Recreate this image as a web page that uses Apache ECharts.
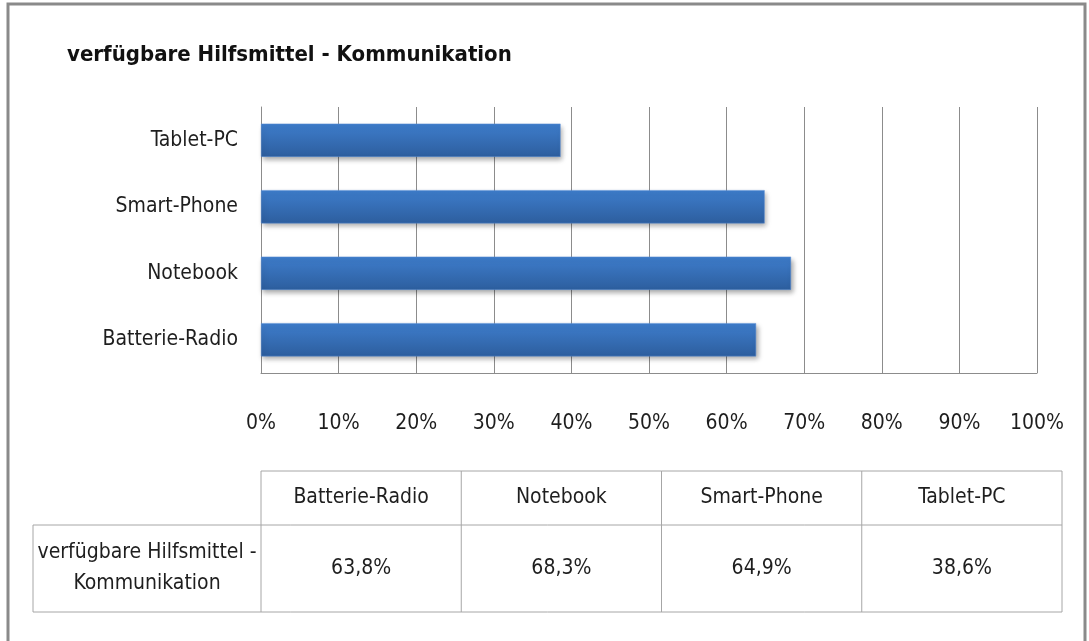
<!DOCTYPE html>
<html>
<head>
<meta charset="utf-8">
<script src="https://cdn.jsdelivr.net/npm/echarts@6/dist/echarts.min.js"></script>
<style>
    html, body { margin: 0; padding: 0; background: #fff; }
    #chart { width: 1089px; height: 641px; }
</style>
</head>
<body>
<div id="chart"></div>
<script>
// data
const categories = ['Batterie-Radio', 'Notebook', 'Smart-Phone', 'Tablet-PC'];
const values = [63.8, 68.3, 64.9, 38.6];
const seriesName = 'verfügbare Hilfsmittel - Kommunikation';
const rowLabelLines = ['verfügbare Hilfsmittel -', 'Kommunikation'];

const FONT = "'Liberation Sans Narrow', 'DejaVu Sans Condensed', sans-serif";
const fmt = v => v.toFixed(1).replace('.', ',') + '%';

// data table layout
const tblLeft = 33, colStart = 261, tblRight = 1062;
const rowTop = 471, rowMid = 525, rowBottom = 612;
const colW = (tblRight - colStart) / categories.length;
const lineStyle = { stroke: '#a6a6a6', lineWidth: 1 };

const graphics = [
    // outer frame
    { type: 'rect', shape: { x: 8, y: 4, width: 1077, height: 660 },
      style: { fill: null, stroke: '#8a8a8a', lineWidth: 3 } },
    { type: 'line', shape: { x1: colStart, y1: rowTop, x2: tblRight, y2: rowTop }, style: lineStyle },
    { type: 'line', shape: { x1: tblLeft, y1: rowMid, x2: tblRight, y2: rowMid }, style: lineStyle },
    { type: 'line', shape: { x1: tblLeft, y1: rowBottom, x2: tblRight, y2: rowBottom }, style: lineStyle },
    { type: 'line', shape: { x1: tblLeft, y1: rowMid, x2: tblLeft, y2: rowBottom }, style: lineStyle }
];
for (let i = 0; i <= categories.length; i++) {
    const x = colStart + i * colW;
    graphics.push({ type: 'line', shape: { x1: x, y1: rowTop, x2: x, y2: rowBottom }, style: lineStyle });
}
categories.forEach((c, i) => {
    const cx = colStart + (i + 0.5) * colW;
    graphics.push({ type: 'text', x: cx, y: (rowTop + rowMid) / 2,
        style: { text: c, font: '21px ' + FONT, fill: '#1e1e1e', align: 'center', verticalAlign: 'middle' } });
    graphics.push({ type: 'text', x: cx, y: (rowMid + rowBottom) / 2,
        style: { text: fmt(values[i]), font: '21px ' + FONT, fill: '#1e1e1e', align: 'center', verticalAlign: 'middle' } });
});
graphics.push({ type: 'text', x: (tblLeft + colStart) / 2, y: (rowMid + rowBottom) / 2,
    style: { text: rowLabelLines.join('\n'), font: '21px ' + FONT, fill: '#1e1e1e',
             align: 'center', verticalAlign: 'middle', lineHeight: 31 } });

const chart = echarts.init(document.getElementById('chart'));
chart.setOption({
    animation: false,
    title: {
        text: seriesName,
        left: 62, top: 39,
        textStyle: { fontFamily: FONT, fontWeight: 'bold', fontSize: 22, color: '#111' }
    },
    grid: { left: 261, right: 52, top: 107, height: 266 },
    xAxis: {
        type: 'value', min: 0, max: 100, interval: 10,
        axisLine: { show: true, lineStyle: { color: '#8c8c8c' } },
        axisTick: { show: false },
        splitLine: { lineStyle: { color: '#8c8c8c' } },
        axisLabel: { formatter: '{value}%', margin: 40, fontFamily: FONT, fontSize: 21, color: '#1e1e1e' }
    },
    yAxis: {
        type: 'category', data: categories,
        axisLine: { lineStyle: { color: '#8c8c8c' } },
        axisTick: { show: false },
        axisLabel: { margin: 23, fontFamily: FONT, fontSize: 21, color: '#1e1e1e' }
    },
    series: [{
        name: seriesName,
        type: 'bar',
        data: values,
        barWidth: '50%',
        itemStyle: {
            color: new echarts.graphic.LinearGradient(0, 0, 0, 1, [
                { offset: 0, color: '#3e7dcc' },
                { offset: 1, color: '#2d5e9e' }
            ]),
            borderColor: '#5a8fd6', borderWidth: 0.5,
            shadowColor: 'rgba(0,0,0,0.35)', shadowBlur: 5, shadowOffsetX: 2, shadowOffsetY: 3
        }
    }],
    graphic: graphics
});
</script>
</body>
</html>
